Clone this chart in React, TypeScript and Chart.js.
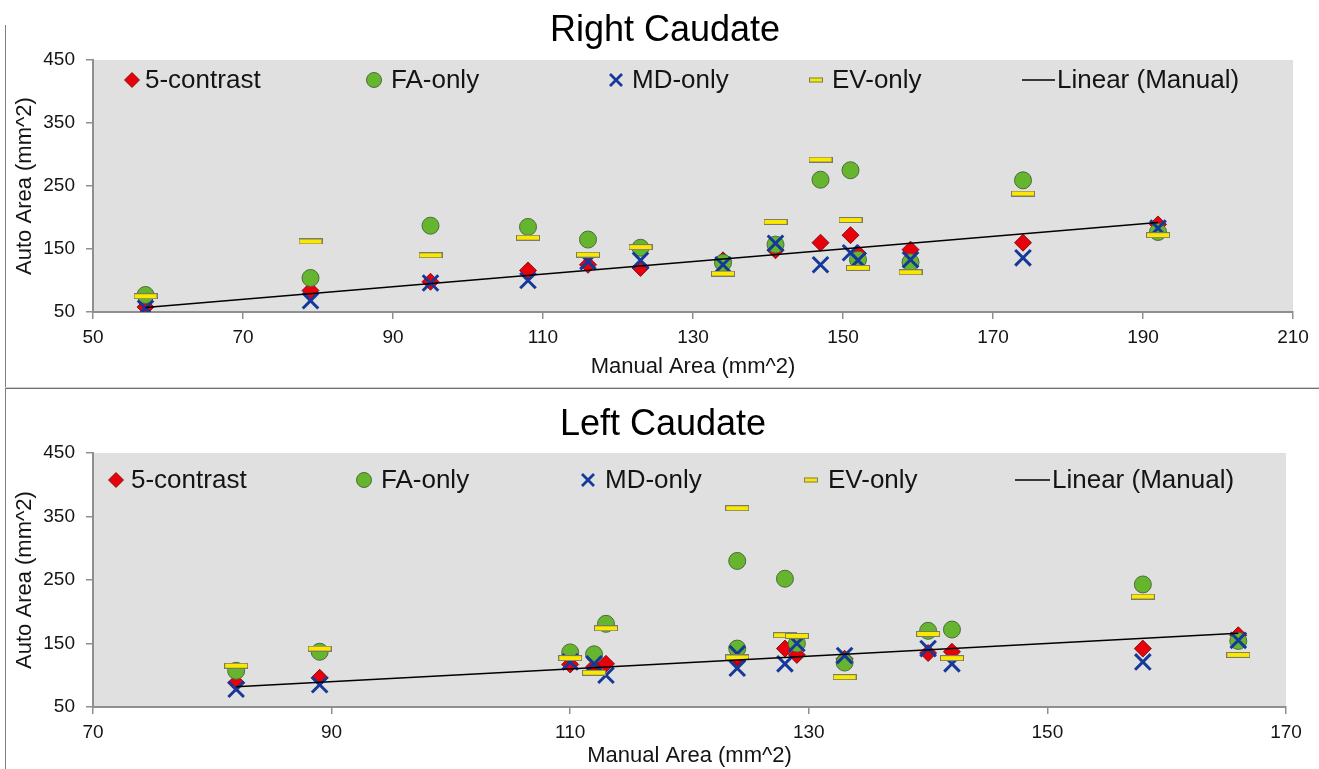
import React, { useEffect, useRef } from 'react';
import { Chart, registerables } from 'chart.js';

Chart.register(...registerables);

const FONT = '"Liberation Sans", Arial, Helvetica, sans-serif';

// ---------- DATA ----------
const seriesNames = ['5-contrast', 'FA-only', 'MD-only', 'EV-only', 'Linear (Manual)'];
const yTicks = [50, 150, 250, 350, 450];

// Right Caudate
const rightManual = [57, 79, 95, 108, 116, 123, 134, 141, 147, 151, 152, 159, 174, 192];
const rightFive = [58, 84, 98, 116, 125, 120, 132, 148, 160, 172, 143, 149, 160, 189];
const rightFA = [77, 104, 187, 185, 165, 152, 128, 157, 260, 275, 133, 129, 259, 177];
const rightMD = [56, 68, 96, 100, 130, 132, 125, 159, 125, 144, 132, 133, 136, 183];
const rightEV = [75, 162, 140, 168, 141, 153, 111, 193, 292, 196, 120, 113, 238, 172];
const rightXTicks = [50, 70, 90, 110, 130, 150, 170, 190, 210];

// Left Caudate
const leftManual = [82, 89, 110, 112, 113, 124, 124, 128, 129, 133, 140, 142, 158, 166];
const leftFive = [88, 96, 117, 113, 118, 124, 130, 142, 132, 126, 135, 137, 142, 163];
const leftFA = [107, 137, 136, 133, 181, 280, 142, 252, 150, 120, 170, 172, 243, 154];
const leftMD = [78, 85, 121, 118, 100, 111, 134, 118, 150, 131, 142, 118, 121, 155];
const leftEV = [115, 142, 127, 104, 174, 363, 128, 163, 162, 97, 165, 127, 224, 132];
const leftXTicks = [70, 90, 110, 130, 150, 170];

// ---------- STYLE ----------
const RED = '#e8000b';
const GREEN = '#66b52e';
const BLUE = '#15399b';
const YELLOW = '#fbe800';
const AXIS = '#8f8f8f';
const TEXT = '#141414';

function makeEvImage(w: number, h: number) {
  const c = document.createElement('canvas');
  c.width = w;
  c.height = h;
  const g = c.getContext('2d')!;
  g.fillStyle = YELLOW;
  g.fillRect(0.5, 0.5, w - 1, h - 1);
  g.strokeStyle = '#7a7a6a';
  g.lineWidth = 1;
  g.strokeRect(0.5, 0.5, w - 1, h - 1);
  return c;
}

function pts(xs: number[], ys: number[]) {
  return xs.map((x, i) => ({ x, y: ys[i] }));
}

function drawLegendMarker(ctx: CanvasRenderingContext2D, idx: number, x: number, y: number) {
  ctx.save();
  if (idx === 0) {
    const r = 7.5;
    ctx.beginPath();
    ctx.moveTo(x - r, y);
    ctx.lineTo(x, y - r);
    ctx.lineTo(x + r, y);
    ctx.lineTo(x, y + r);
    ctx.closePath();
    ctx.fillStyle = RED;
    ctx.fill();
    ctx.strokeStyle = '#700000';
    ctx.lineWidth = 0.8;
    ctx.stroke();
  } else if (idx === 1) {
    ctx.beginPath();
    ctx.arc(x, y, 7.5, 0, Math.PI * 2);
    ctx.fillStyle = GREEN;
    ctx.fill();
    ctx.strokeStyle = '#4f6b3c';
    ctx.lineWidth = 1;
    ctx.stroke();
  } else if (idx === 2) {
    const d = 6;
    ctx.beginPath();
    ctx.moveTo(x - d, y - d);
    ctx.lineTo(x + d, y + d);
    ctx.moveTo(x + d, y - d);
    ctx.lineTo(x - d, y + d);
    ctx.strokeStyle = BLUE;
    ctx.lineWidth = 2.8;
    ctx.stroke();
  } else if (idx === 3) {
    ctx.fillStyle = YELLOW;
    ctx.fillRect(x - 7, y - 2.5, 14, 5);
    ctx.strokeStyle = '#7a7a6a';
    ctx.lineWidth = 1;
    ctx.strokeRect(x - 7 + 0.5, y - 2.5 + 0.5, 13, 4);
  }
  ctx.restore();
}

type Cfg = {
  title: string;
  manual: number[];
  five: number[];
  fa: number[];
  md: number[];
  ev: number[];
  xTicks: number[];
  top: number;
  height: number;
  padTop: number;
  padRight: number;
  xAxisHeight: number;
  xTitlePad: number;
  titleX: number;
  titleY: number;
  legendY: number;
  legendMarkers: number[];
  legendTexts: number[];
  lineSpan: [number, number];
};

function buildConfig(cfg: Cfg): any {
  const evImg = makeEvImage(24, 6);
  const lo = Math.min(...cfg.manual);
  const hi = Math.max(...cfg.manual);

  const plotBg = {
    id: 'plotBg',
    beforeDraw(chart: any) {
      const { ctx, chartArea } = chart;
      ctx.save();
      ctx.fillStyle = '#e0e0e0';
      ctx.fillRect(chartArea.left, chartArea.top, chartArea.right - chartArea.left, chartArea.bottom - chartArea.top);
      ctx.restore();
    },
  };

  const header = {
    id: 'header',
    afterDraw(chart: any) {
      const { ctx } = chart;
      ctx.save();
      ctx.font = `36px ${FONT}`;
      ctx.fillStyle = '#000';
      ctx.textAlign = 'center';
      ctx.textBaseline = 'middle';
      ctx.fillText(cfg.title, cfg.titleX, cfg.titleY);
      ctx.restore();
    },
  };

  const legend = {
    id: 'innerLegend',
    afterDraw(chart: any) {
      const { ctx, chartArea } = chart;
      const y = chartArea.top + cfg.legendY;
      ctx.save();
      ctx.font = `26px ${FONT}`;
      ctx.fillStyle = TEXT;
      ctx.textAlign = 'left';
      ctx.textBaseline = 'middle';
      seriesNames.forEach((name, i) => {
        if (i < 4) {
          drawLegendMarker(ctx, i, chartArea.left + cfg.legendMarkers[i], y);
        } else {
          ctx.save();
          ctx.beginPath();
          ctx.moveTo(chartArea.left + cfg.lineSpan[0], y);
          ctx.lineTo(chartArea.left + cfg.lineSpan[1], y);
          ctx.strokeStyle = '#000';
          ctx.lineWidth = 1.5;
          ctx.stroke();
          ctx.restore();
        }
        ctx.fillStyle = TEXT;
        ctx.fillText(name, chartArea.left + cfg.legendTexts[i], y + 1);
      });
      ctx.restore();
    },
  };

  return {
    type: 'scatter',
    data: {
      datasets: [
        {
          label: seriesNames[0],
          data: pts(cfg.manual, cfg.five),
          pointStyle: 'rectRot',
          pointRadius: 8.5,
          pointBackgroundColor: RED,
          pointBorderColor: '#6a0000',
          pointBorderWidth: 0.8,
          order: 4,
        },
        {
          label: seriesNames[1],
          data: pts(cfg.manual, cfg.fa),
          pointStyle: 'circle',
          pointRadius: 8.5,
          pointBackgroundColor: GREEN,
          pointBorderColor: '#4f6b3c',
          pointBorderWidth: 1,
          order: 3,
        },
        {
          label: seriesNames[2],
          data: pts(cfg.manual, cfg.md),
          pointStyle: 'crossRot',
          pointRadius: 11,
          pointBorderColor: BLUE,
          pointBorderWidth: 3,
          order: 2,
        },
        {
          label: seriesNames[3],
          data: pts(cfg.manual, cfg.ev),
          pointStyle: evImg,
          pointRadius: 12,
          order: 1,
        },
        {
          label: seriesNames[4],
          data: [
            { x: lo, y: lo },
            { x: hi, y: hi },
          ],
          showLine: true,
          borderColor: '#000',
          borderWidth: 1.5,
          pointRadius: 0,
          order: 0,
        },
      ],
    },
    options: {
      responsive: false,
      animation: false,
      events: [],
      layout: { padding: { top: cfg.padTop, right: cfg.padRight, left: 0, bottom: 0 } },
      plugins: {
        legend: { display: false },
        title: { display: false },
        tooltip: { enabled: false },
      },
      scales: {
        x: {
          type: 'linear',
          min: cfg.xTicks[0],
          max: cfg.xTicks[cfg.xTicks.length - 1],
          ticks: {
            stepSize: cfg.xTicks[1] - cfg.xTicks[0],
            padding: 7,
            color: TEXT,
            font: { family: FONT, size: 19 },
            maxRotation: 0,
            autoSkip: false,
          },
          grid: { display: true, drawOnChartArea: false, drawTicks: true, tickLength: 7, color: AXIS, lineWidth: 1.5 },
          border: { display: true, color: AXIS, width: 2 },
          title: {
            display: true,
            text: 'Manual Area (mm^2)',
            color: TEXT,
            font: { family: FONT, size: 22 },
            padding: { top: 0, bottom: cfg.xTitlePad },
          },
          afterFit(scale: any) {
            scale.height = cfg.xAxisHeight;
          },
        },
        y: {
          type: 'linear',
          min: yTicks[0],
          max: yTicks[yTicks.length - 1],
          ticks: {
            stepSize: yTicks[1] - yTicks[0],
            padding: 11,
            color: TEXT,
            font: { family: FONT, size: 19 },
          },
          grid: { display: true, drawOnChartArea: false, drawTicks: true, tickLength: 7, color: AXIS, lineWidth: 1.5 },
          border: { display: true, color: AXIS, width: 2 },
          title: {
            display: true,
            text: 'Auto Area (mm^2)',
            color: TEXT,
            font: { family: FONT, size: 22 },
            padding: { top: 12, bottom: 0 },
          },
          afterFit(scale: any) {
            scale.width = 93;
          },
        },
      },
    },
    plugins: [plotBg, header, legend],
  };
}

function CaudateChart({ cfg }: { cfg: Cfg }) {
  const ref = useRef<HTMLCanvasElement>(null);
  useEffect(() => {
    if (!ref.current) return;
    const chart = new Chart(ref.current, buildConfig(cfg));
    return () => chart.destroy();
  }, []);
  return (
    <canvas
      ref={ref}
      width={1319}
      height={cfg.height}
      style={{ position: 'absolute', left: 0, top: cfg.top, width: 1319, height: cfg.height, display: 'block' }}
    />
  );
}

const rightCfg: Cfg = {
  title: 'Right Caudate',
  manual: rightManual,
  five: rightFive,
  fa: rightFA,
  md: rightMD,
  ev: rightEV,
  xTicks: rightXTicks,
  top: 0,
  height: 387,
  padTop: 60,
  padRight: 26,
  xAxisHeight: 75,
  xTitlePad: 7,
  titleX: 665,
  titleY: 31,
  legendY: 20,
  legendMarkers: [39, 281, 523, 723],
  legendTexts: [52, 298, 539, 739, 964],
  lineSpan: [929, 962],
};

const leftCfg: Cfg = {
  title: 'Left Caudate',
  manual: leftManual,
  five: leftFive,
  fa: leftFA,
  md: leftMD,
  ev: leftEV,
  xTicks: leftXTicks,
  top: 389,
  height: 380,
  padTop: 64,
  padRight: 33,
  xAxisHeight: 62,
  xTitlePad: 0,
  titleX: 663,
  titleY: 36,
  legendY: 27,
  legendMarkers: [23, 271, 495, 718],
  legendTexts: [38, 288, 512, 735, 959],
  lineSpan: [922, 957],
};

export default function App() {
  return (
    <div style={{ position: 'absolute', left: 0, top: 0, width: 1319, height: 769, background: '#fff', overflow: 'hidden' }}>
      <CaudateChart cfg={rightCfg} />
      <CaudateChart cfg={leftCfg} />
      <div style={{ position: 'absolute', left: 5, top: 25, width: 1, height: 744, background: '#7f7f7f' }} />
      <div style={{ position: 'absolute', left: 5, top: 387, width: 1314, height: 1, background: '#cfcfcf' }} />
      <div style={{ position: 'absolute', left: 5, top: 388, width: 1314, height: 1, background: '#6f6f6f' }} />
    </div>
  );
}
